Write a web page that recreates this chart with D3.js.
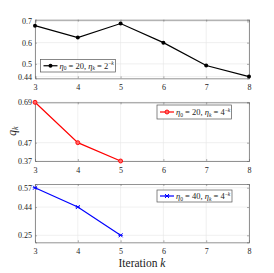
<!DOCTYPE html>
<html>
<head>
<meta charset="utf-8">
<script src="https://cdn.jsdelivr.net/npm/d3@7"></script>
<style>
  body { margin: 0; background: #fff; }
  text { font-family: "Liberation Serif", "DejaVu Serif", serif; fill: #222; }
</style>
</head>
<body>
<div id="chart"></div>
<script>
// ========== Data ==========
const iterations = [3, 4, 5, 6, 7, 8];
const iters1 = [3, 4, 5, 6, 7, 8];
const q1 = [0.68, 0.624, 0.69, 0.6, 0.492, 0.44];
const iters2 = [3, 4, 5];
const q2 = [0.69, 0.47, 0.37];
const iters3 = [3, 4, 5];
const q3 = [0.57, 0.44, 0.25];
const yTicks1 = [0.44, 0.5, 0.6, 0.7];
const yTicks2 = [0.37, 0.47, 0.69];
const yTicks3 = [0.25, 0.44, 0.57];
const legend1 = { eta0: "20", base: "2" };
const legend2 = { eta0: "20", base: "4" };
const legend3 = { eta0: "40", base: "4" };

const width = 274;
const height = 273;
const left = 35;
const right = 249;

const svg = d3.select("#chart").append("svg")
  .attr("width", width)
  .attr("height", height);

const x = d3.scaleLinear().domain([3, 8]).range([left, right]);

const panels = [
  { xs: iters1, ys: q1, ticks: yTicks1, domain: [0.432, 0.708], top: 19.7, bottom: 78.3,
    color: "#000", marker: "dot", legend: legend1, lx: 40.5, ly: 59.5, lw: 75, lh: 12.5 },
  { xs: iters2, ys: q2, ticks: yTicks2, domain: [0.37, 0.69], top: 102.3, bottom: 161,
    color: "#ff0000", marker: "circle", legend: legend2, lx: 157, ly: 105, lw: 74.5, lh: 14 },
  { xs: iters3, ys: q3, ticks: yTicks3, domain: [0.203, 0.595], top: 184, bottom: 242.3,
    color: "#0000ff", marker: "cross", legend: legend3, lx: 157, ly: 190, lw: 75, lh: 12 },
];

panels.forEach((p) => {
  const y = d3.scaleLinear().domain(p.domain).range([p.bottom, p.top]);
  const g = svg.append("g");

  // grid
  g.selectAll(".vgrid").data(iterations).enter().append("line")
    .attr("x1", (d) => x(d)).attr("x2", (d) => x(d))
    .attr("y1", p.top).attr("y2", p.bottom)
    .attr("stroke", "#e6e6e6").attr("stroke-width", 0.6);
  g.selectAll(".hgrid").data(p.ticks).enter().append("line")
    .attr("x1", left).attr("x2", right)
    .attr("y1", (d) => y(d)).attr("y2", (d) => y(d))
    .attr("stroke", "#e6e6e6").attr("stroke-width", 0.6);

  // axes (ticks inward)
  const axB = g.append("g").attr("transform", `translate(0,${p.bottom})`)
    .call(d3.axisBottom(x).tickValues(iterations).tickSize(-2).tickPadding(6).tickFormat(d3.format("d")));
  const axT = g.append("g").attr("transform", `translate(0,${p.top})`)
    .call(d3.axisTop(x).tickValues(iterations).tickSize(-2).tickFormat(""));
  const axL = g.append("g").attr("transform", `translate(${left},0)`)
    .call(d3.axisLeft(y).tickValues(p.ticks).tickSize(-2).tickPadding(3).tickFormat((d) => String(d)));
  const axR = g.append("g").attr("transform", `translate(${right},0)`)
    .call(d3.axisRight(y).tickValues(p.ticks).tickSize(-2).tickFormat(""));
  [axB, axT, axL, axR].forEach((a) => {
    a.select(".domain").attr("stroke", "#777").attr("stroke-width", 0.8);
    a.selectAll(".tick line").attr("stroke", "#777").attr("stroke-width", 0.6);
    a.selectAll(".tick text").attr("font-family", "Liberation Serif").attr("font-size", 8).attr("fill", "#333");
  });

  // line
  const pts = p.xs.map((d, i) => ({ x: d, y: p.ys[i] }));
  g.append("path").datum(pts)
    .attr("fill", "none").attr("stroke", p.color).attr("stroke-width", 1.2)
    .attr("d", d3.line().x((d) => x(d.x)).y((d) => y(d.y)));

  drawMarkers(g, pts.map((d) => [x(d.x), y(d.y)]), p);

  // legend
  const lg = g.append("g").attr("transform", `translate(${p.lx},${p.ly})`);
  lg.append("rect").attr("width", p.lw).attr("height", p.lh)
    .attr("fill", "#fff").attr("stroke", "#555").attr("stroke-width", 0.7);
  const cy = p.lh / 2;
  lg.append("line").attr("x1", 3).attr("x2", 17).attr("y1", cy).attr("y2", cy)
    .attr("stroke", p.color).attr("stroke-width", 1.2);
  drawMarkers(lg, [[10, cy]], p);
  const t = lg.append("text").attr("x", 19).attr("y", cy + 3).attr("font-size", 8.5);
  t.append("tspan").attr("font-style", "italic").text("η");
  t.append("tspan").attr("font-size", 5.5).attr("dy", 1.5).text("0");
  t.append("tspan").attr("dy", -1.5).text(` = ${p.legend.eta0}, `);
  t.append("tspan").attr("font-style", "italic").text("η");
  t.append("tspan").attr("font-size", 5.5).attr("font-style", "italic").attr("dy", 1.5).text("k");
  t.append("tspan").attr("dy", -1.5).text(` = ${p.legend.base}`);
  t.append("tspan").attr("font-size", 5.5).attr("dy", -3.5).text("−");
  t.append("tspan").attr("font-size", 5.5).attr("font-style", "italic").text("k");
});

function drawMarkers(g, coords, p) {
  coords.forEach(([cx, cy]) => {
    if (p.marker === "dot") {
      g.append("circle").attr("cx", cx).attr("cy", cy).attr("r", 2).attr("fill", p.color);
    } else if (p.marker === "circle") {
      g.append("circle").attr("cx", cx).attr("cy", cy).attr("r", 2)
        .attr("fill", "#ff6666").attr("stroke", p.color).attr("stroke-width", 0.9);
    } else {
      g.append("path")
        .attr("d", `M${cx - 2},${cy - 2}L${cx + 2},${cy + 2}M${cx - 2},${cy + 2}L${cx + 2},${cy - 2}M${cx - 2.2},${cy}L${cx + 2.2},${cy}`)
        .attr("stroke", p.color).attr("stroke-width", 1);
    }
  });
}

// ========== Labels ==========
svg.append("text")
  .attr("x", (left + right) / 2).attr("y", 267)
  .attr("text-anchor", "middle").attr("font-size", 11.5)
  .text("Iteration ")
  .append("tspan").attr("font-style", "italic").text("k");

const yl = svg.append("text")
  .attr("transform", "translate(16,131) rotate(-90)")
  .attr("text-anchor", "middle").attr("font-size", 11.5).attr("font-style", "italic");
yl.append("tspan").text("q");
yl.append("tspan").attr("font-size", 8).attr("dy", 2).text("k");
</script>
</body>
</html>
